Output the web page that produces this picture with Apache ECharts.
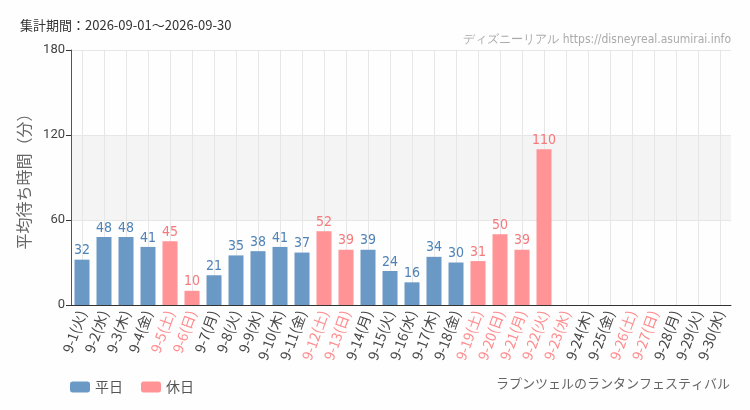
<!DOCTYPE html>
<html>
<head>
<meta charset="utf-8">
<script src="https://cdn.jsdelivr.net/npm/echarts@6/dist/echarts.min.js"></script>
<style>
  html, body { margin: 0; padding: 0; background: #fdfefd; }
  #chart { width: 750px; height: 410px; }
</style>
</head>
<body>
<div id="chart"></div>
<script>
// 日付・曜日
var days = ['9-1(火)', '9-2(水)', '9-3(木)', '9-4(金)', '9-5(土)', '9-6(日)', '9-7(月)', '9-8(火)', '9-9(水)', '9-10(木)',
    '9-11(金)', '9-12(土)', '9-13(日)', '9-14(月)', '9-15(火)', '9-16(水)', '9-17(木)', '9-18(金)', '9-19(土)', '9-20(日)',
    '9-21(月)', '9-22(火)', '9-23(水)', '9-24(木)', '9-25(金)', '9-26(土)', '9-27(日)', '9-28(月)', '9-29(火)', '9-30(水)'];
// 休日フラグ
var holiday = [0, 0, 0, 0, 1, 1, 0, 0, 0, 0,
    0, 1, 1, 0, 0, 0, 0, 0, 1, 1,
    1, 1, 1, 0, 0, 1, 1, 0, 0, 0];
// 平均待ち時間（分）
var waits = [32, 48, 48, 41, 45, 10, 21, 35, 38, 41,
    37, 52, 39, 39, 24, 16, 34, 30, 31, 50,
    39, 110];
var yTicks = [0, 60, 120, 180];

var BLUE = '#6a99c6', PINK = '#ff9396';
var NARROW = 'DejaVu Sans Condensed, Roboto, sans-serif';

var weekday = days.map(function (d, i) {
    return (i < waits.length && !holiday[i]) ? waits[i] : '-';
});
var offday = days.map(function (d, i) {
    return (i < waits.length && holiday[i]) ? waits[i] : '-';
});

var myChart = echarts.init(document.getElementById('chart'));

var option = {
    backgroundColor: '#fdfefd',
    animation: false,
    title: [{
        text: '集計期間：2026-09-01～2026-09-30',
        left: 15,
        top: 14,
        textStyle: {color: '#333', fontSize: 13, fontWeight: 'normal', fontFamily: 'Noto Sans CJK JP'}
    }, {
        text: 'ディズニーリアル https://disneyreal.asumirai.info',
        right: 14,
        top: 29,
        textStyle: {color: '#aaa', fontSize: 12, fontWeight: 'normal', fontFamily: NARROW}
    }, {
        text: 'ラプンツェルのランタンフェスティバル',
        right: 15,
        top: 372,
        textStyle: {color: '#666', fontSize: 13, fontWeight: 'normal', fontFamily: 'Noto Sans CJK JP'}
    }],
    legend: {
        left: 65,
        top: 375,
        itemWidth: 20,
        itemHeight: 11,
        itemGap: 18,
        textStyle: {color: '#555', fontSize: 14, fontFamily: 'Noto Sans CJK JP'},
        data: ['平日', '休日']
    },
    grid: {left: 71, right: 19, top: 50, bottom: 105},
    xAxis: {
        type: 'category',
        data: days,
        axisLine: {lineStyle: {color: '#333'}},
        axisTick: {alignWithLabel: true, length: 5, lineStyle: {color: '#333'}},
        splitLine: {show: true, alignWithLabel: true, lineStyle: {color: '#e6e6e6'}},
        axisLabel: {
            rotate: 70,
            interval: 0,
            margin: 6,
            fontSize: 14,
            fontFamily: 'Noto Sans CJK JP',
            color: function (v) {
                return holiday[days.indexOf(v)] ? '#ff8a8d' : '#444';
            }
        }
    },
    yAxis: {
        type: 'value',
        min: yTicks[0],
        max: yTicks[yTicks.length - 1],
        interval: 60,
        name: '平均待ち時間（分）',
        nameLocation: 'middle',
        nameGap: 30,
        nameRotate: 90,
        nameTextStyle: {color: '#666', fontSize: 16, fontFamily: 'Noto Sans CJK JP'},
        axisLine: {show: true, lineStyle: {color: '#555'}},
        axisTick: {show: true, length: 5, lineStyle: {color: '#333'}},
        axisLabel: {color: '#444', fontSize: 13, margin: 6, fontFamily: 'Roboto'},
        splitLine: {lineStyle: {color: '#e6e6e6'}},
        splitArea: {show: true, areaStyle: {color: ['rgba(255,255,255,0)', '#f3f4f3']}}
    },
    series: [{
        name: '平日',
        type: 'bar',
        stack: 'w',
        barWidth: 15,
        data: weekday,
        itemStyle: {color: BLUE},
        label: {
            show: true, position: 'top', distance: 2, color: '#4f82b8', fontSize: 14,
            fontFamily: NARROW
        }
    }, {
        name: '休日',
        type: 'bar',
        stack: 'w',
        barWidth: 15,
        data: offday,
        itemStyle: {color: PINK},
        label: {
            show: true, position: 'top', distance: 2, color: '#f8797d', fontSize: 14,
            fontFamily: NARROW
        }
    }]
};

myChart.setOption(option);
</script>
</body>
</html>
